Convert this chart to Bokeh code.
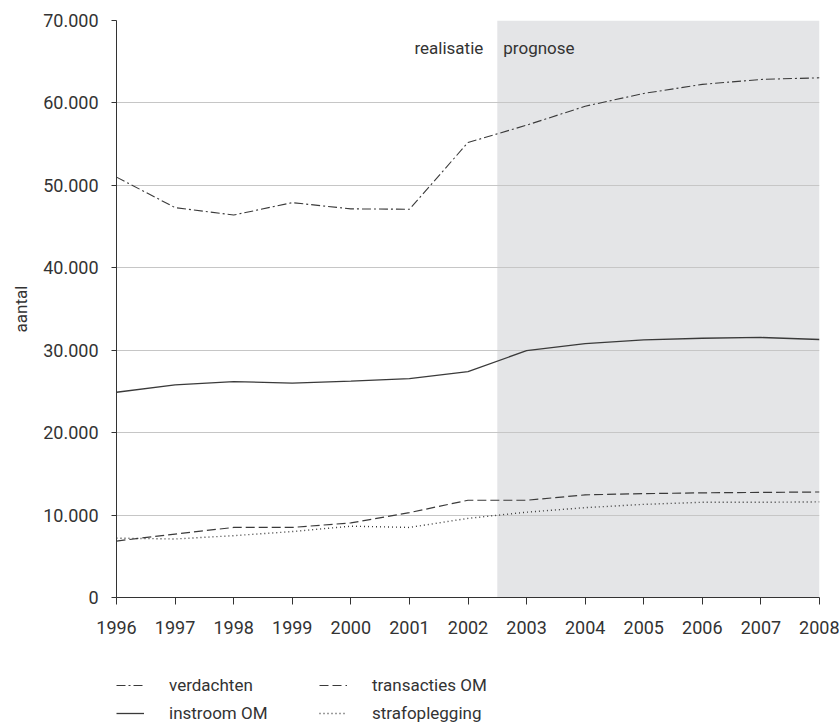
from bokeh.plotting import figure
from bokeh.layouts import column
from bokeh.models import (Legend, LegendItem, BoxAnnotation, Label, FixedTicker, Range1d)
from bokeh.embed import file_html
from bokeh.resources import INLINE

# ---- data ----
years = [1996, 1997, 1998, 1999, 2000, 2001, 2002, 2003, 2004, 2005, 2006, 2007, 2008]
verdachten = [51000, 47300, 46400, 47900, 47150, 47100, 55200, 57300, 59600, 61150, 62250, 62850, 63050]
instroom_om = [24900, 25800, 26200, 26000, 26250, 26550, 27400, 29950, 30800, 31250, 31450, 31550, 31300]
transacties_om = [6850, 7700, 8500, 8500, 9050, 10300, 11800, 11800, 12450, 12600, 12700, 12750, 12800]
strafoplegging = [7200, 7100, 7500, 8000, 8650, 8500, 9600, 10350, 10900, 11300, 11550, 11550, 11600]

series_names = ["verdachten", "instroom OM", "transacties OM", "strafoplegging"]
y_ticks = [0, 10000, 20000, 30000, 40000, 50000, 60000, 70000]
y_tick_labels = ["0", "10.000", "20.000", "30.000", "40.000", "50.000", "60.000", "70.000"]
x_tick_labels = [str(y) for y in years]
forecast_start = 2002.5

FONT = "Roboto"
TXT = "#333333"
LINE = "#3a3a3a"
STYLES = [dict(line_width=1.1, line_dash="9 3 2 3"),
          dict(line_width=1.3, line_dash="solid"),
          dict(line_width=1.2, line_dash="9 4"),
          dict(line_width=1.4, line_dash="1 3")]
SERIES = [verdachten, instroom_om, transacties_om, strafoplegging]

p = figure(width=839, height=660, x_range=(1996, 2008), y_range=(0, 70000),
           output_backend="svg", toolbar_location=None,
           min_border_left=116, min_border_right=20, min_border_top=20,
           min_border_bottom=63)
p.outline_line_color = None
p.background_fill_color = "white"

# forecast shading
p.add_layout(BoxAnnotation(left=forecast_start, right=2008, fill_color="#e4e5e7",
                           fill_alpha=1.0, line_color=None, level="image"))

# grid
p.xgrid.grid_line_color = None
p.ygrid.grid_line_color = "#c6c6c6"
p.ygrid.grid_line_width = 1
p.ygrid.ticker = FixedTicker(ticks=y_ticks)

# axes
p.yaxis.ticker = FixedTicker(ticks=y_ticks)
p.yaxis.major_label_overrides = {t: l for t, l in zip(y_ticks, y_tick_labels)}
p.xaxis.ticker = FixedTicker(ticks=years)
p.xaxis.major_label_overrides = {y: l for y, l in zip(years, x_tick_labels)}
for ax in (p.xaxis[0], p.yaxis[0]):
    ax.axis_line_color = TXT
    ax.axis_line_width = 1
    ax.major_tick_line_color = TXT
    ax.major_tick_in = 0
    ax.minor_tick_line_color = None
    ax.major_label_text_font = FONT
    ax.major_label_text_font_size = "18px"
    ax.major_label_text_color = TXT
p.xaxis.major_tick_out = 7
p.xaxis.major_label_standoff = 16
p.yaxis.major_tick_out = 5
p.yaxis.major_label_standoff = 13
p.yaxis.axis_label = "aantal"
p.yaxis.axis_label_text_font = FONT
p.yaxis.axis_label_text_font_size = "17px"
p.yaxis.axis_label_text_font_style = "normal"
p.yaxis.axis_label_text_color = TXT
p.yaxis.axis_label_standoff = 9

# lines
for vals, st in zip(SERIES, STYLES):
    p.line(years, vals, line_color=LINE, **st)

# labels
p.add_layout(Label(x=forecast_start, y=66700, text="realisatie", text_align="right",
                   text_baseline="middle", x_offset=-14, text_font=FONT,
                   text_font_size="17px", text_color=TXT))
p.add_layout(Label(x=forecast_start, y=66700, text="prognose", text_align="left",
                   text_baseline="middle", x_offset=6, text_font=FONT,
                   text_font_size="17px", text_color=TXT))

# legend strip (series drawn outside its visible range: only the legend shows)
pl = figure(width=839, height=64, output_backend="svg", toolbar_location=None,
            x_range=Range1d(0, 839), y_range=Range1d(0, 64),
            x_axis_location=None, y_axis_location=None,
            min_border_left=0, min_border_right=0, min_border_top=0, min_border_bottom=0)
pl.outline_line_color = None
pl.xgrid.grid_line_color = None
pl.ygrid.grid_line_color = None
items = []
for name, vals, st in zip(series_names, SERIES, STYLES):
    r = pl.line(years, vals, line_color=LINE, **st)
    items.append(LegendItem(label=name, renderers=[r]))

legend = Legend(items=items, orientation="vertical", nrows=2, location=(0, 1))
legend.border_line_color = None
legend.background_fill_alpha = 0
legend.padding = 0
legend.margin = 0
legend.spacing = 8
legend.glyph_width = 28
legend.glyph_height = 20
legend.label_height = 20
legend.label_width = 142
legend.label_standoff = 25
legend.label_text_font = FONT
legend.label_text_font_size = "17px"
legend.label_text_color = TXT
pl.add_layout(legend, "center")

layout = column(p, pl, spacing=0)
open("out.html", "w").write(file_html(layout, INLINE))
